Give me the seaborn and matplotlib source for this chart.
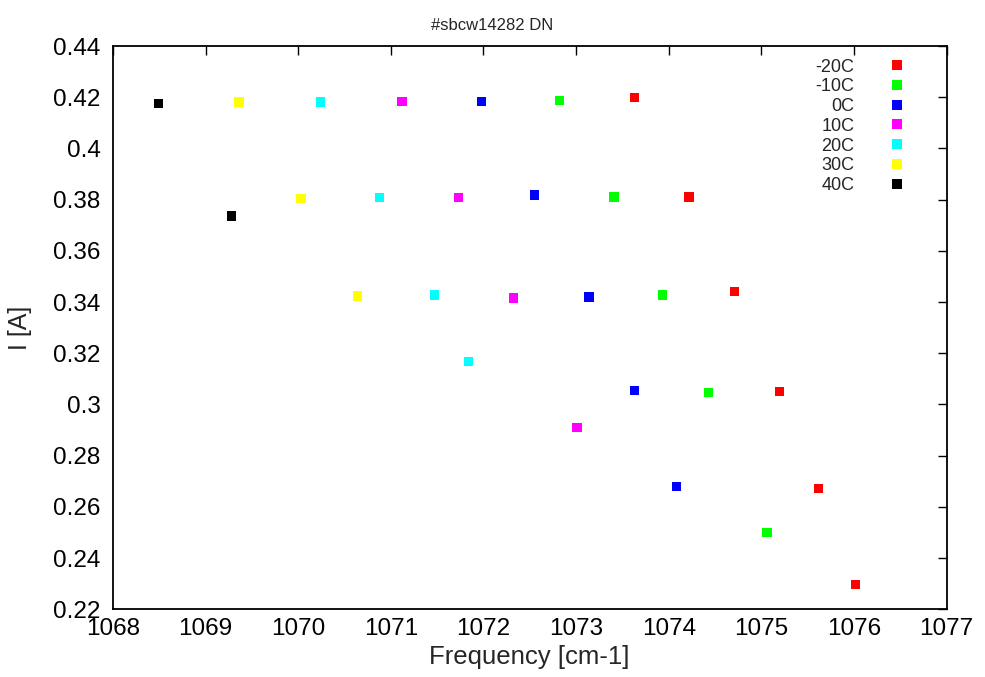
import pandas as pd
import matplotlib
matplotlib.use("Agg")
import matplotlib.pyplot as plt
import seaborn as sns
from matplotlib.ticker import FuncFormatter, MultipleLocator

# data
temps = ["-20C", "-10C", "0C", "10C", "20C", "30C", "40C"]
colors = ["#ff0000", "#00ff00", "#0000ff", "#ff00ff", "#00ffff", "#ffff00", "#000000"]

freq_m20 = [1073.63, 1074.22, 1074.71, 1075.20, 1075.62, 1076.02]
cur_m20 = [0.4200, 0.3810, 0.3440, 0.3050, 0.2672, 0.2297]
freq_m10 = [1072.82, 1073.41, 1073.93, 1074.43, 1075.06]
cur_m10 = [0.4188, 0.3810, 0.3428, 0.3046, 0.2500]
freq_0 = [1071.98, 1072.55, 1073.14, 1073.63, 1074.08]
cur_0 = [0.4184, 0.3818, 0.3420, 0.3054, 0.2680]
freq_10 = [1071.12, 1071.73, 1072.32, 1073.01]
cur_10 = [0.4184, 0.3807, 0.3416, 0.2910]
freq_20 = [1070.24, 1070.88, 1071.47, 1071.84]
cur_20 = [0.4181, 0.3807, 0.3428, 0.3167]
freq_30 = [1069.36, 1070.03, 1070.64]
cur_30 = [0.4181, 0.3803, 0.3424]
freq_40 = [1068.49, 1069.28]
cur_40 = [0.4177, 0.3736]

freqs = [freq_m20, freq_m10, freq_0, freq_10, freq_20, freq_30, freq_40]
currents = [cur_m20, cur_m10, cur_0, cur_10, cur_20, cur_30, cur_40]

rows = []
for t, fs, cs in zip(temps, freqs, currents):
    for f, c in zip(fs, cs):
        rows.append({"Frequency": f, "I": c, "T": t})
df = pd.DataFrame(rows)

sns.set_style("white")
plt.rcParams["font.family"] = ["Liberation Sans", "DejaVu Sans"]

fig = plt.figure(figsize=(9.85, 6.77), dpi=100)
ax = fig.add_axes([0.1147, 0.100, 0.8463, 0.832])

sns.scatterplot(
    data=df, x="Frequency", y="I", hue="T",
    hue_order=temps, palette=dict(zip(temps, colors)),
    marker="s", s=44, linewidth=0, ax=ax,
)

ax.set_xlim(1068, 1077)
ax.set_ylim(0.22, 0.44)
ax.xaxis.set_major_locator(MultipleLocator(1))
ax.yaxis.set_major_locator(MultipleLocator(0.02))
ax.yaxis.set_major_formatter(FuncFormatter(lambda v, p: "{:g}".format(round(v, 4))))
ax.xaxis.set_major_formatter(FuncFormatter(lambda v, p: "{:g}".format(v)))

ax.tick_params(direction="in", length=6.5, width=1, labelsize=17.5,
               top=True, right=True, colors="black")
ax.tick_params(axis="x", pad=6.5)
ax.tick_params(axis="y", pad=9)
for sp in ax.spines.values():
    sp.set_linewidth(1.3)
    sp.set_color("black")

ax.set_xlabel("Frequency [cm-1]", fontsize=18.5, va="center")
ax.set_ylabel("I [A]", fontsize=18, va="center")
ax.xaxis.set_label_coords(0.499, -0.0853)
ax.yaxis.set_label_coords(-0.1116, 0.5)
fig.text(0.5, 0.962, "#sbcw14282 DN", ha="center", va="center", fontsize=12)

leg = ax.legend(
    loc="upper right", bbox_to_anchor=(0.966, 1.0), frameon=False,
    markerfirst=False, fontsize=13, handletextpad=1.83, labelspacing=0.15,
    borderpad=0.2, handlelength=1.0,
)
for txt in leg.get_texts():
    txt.set_ha("right")
leg._legend_box.align = "right"

fig.savefig("out.png", dpi=100)
plt.close(fig)
